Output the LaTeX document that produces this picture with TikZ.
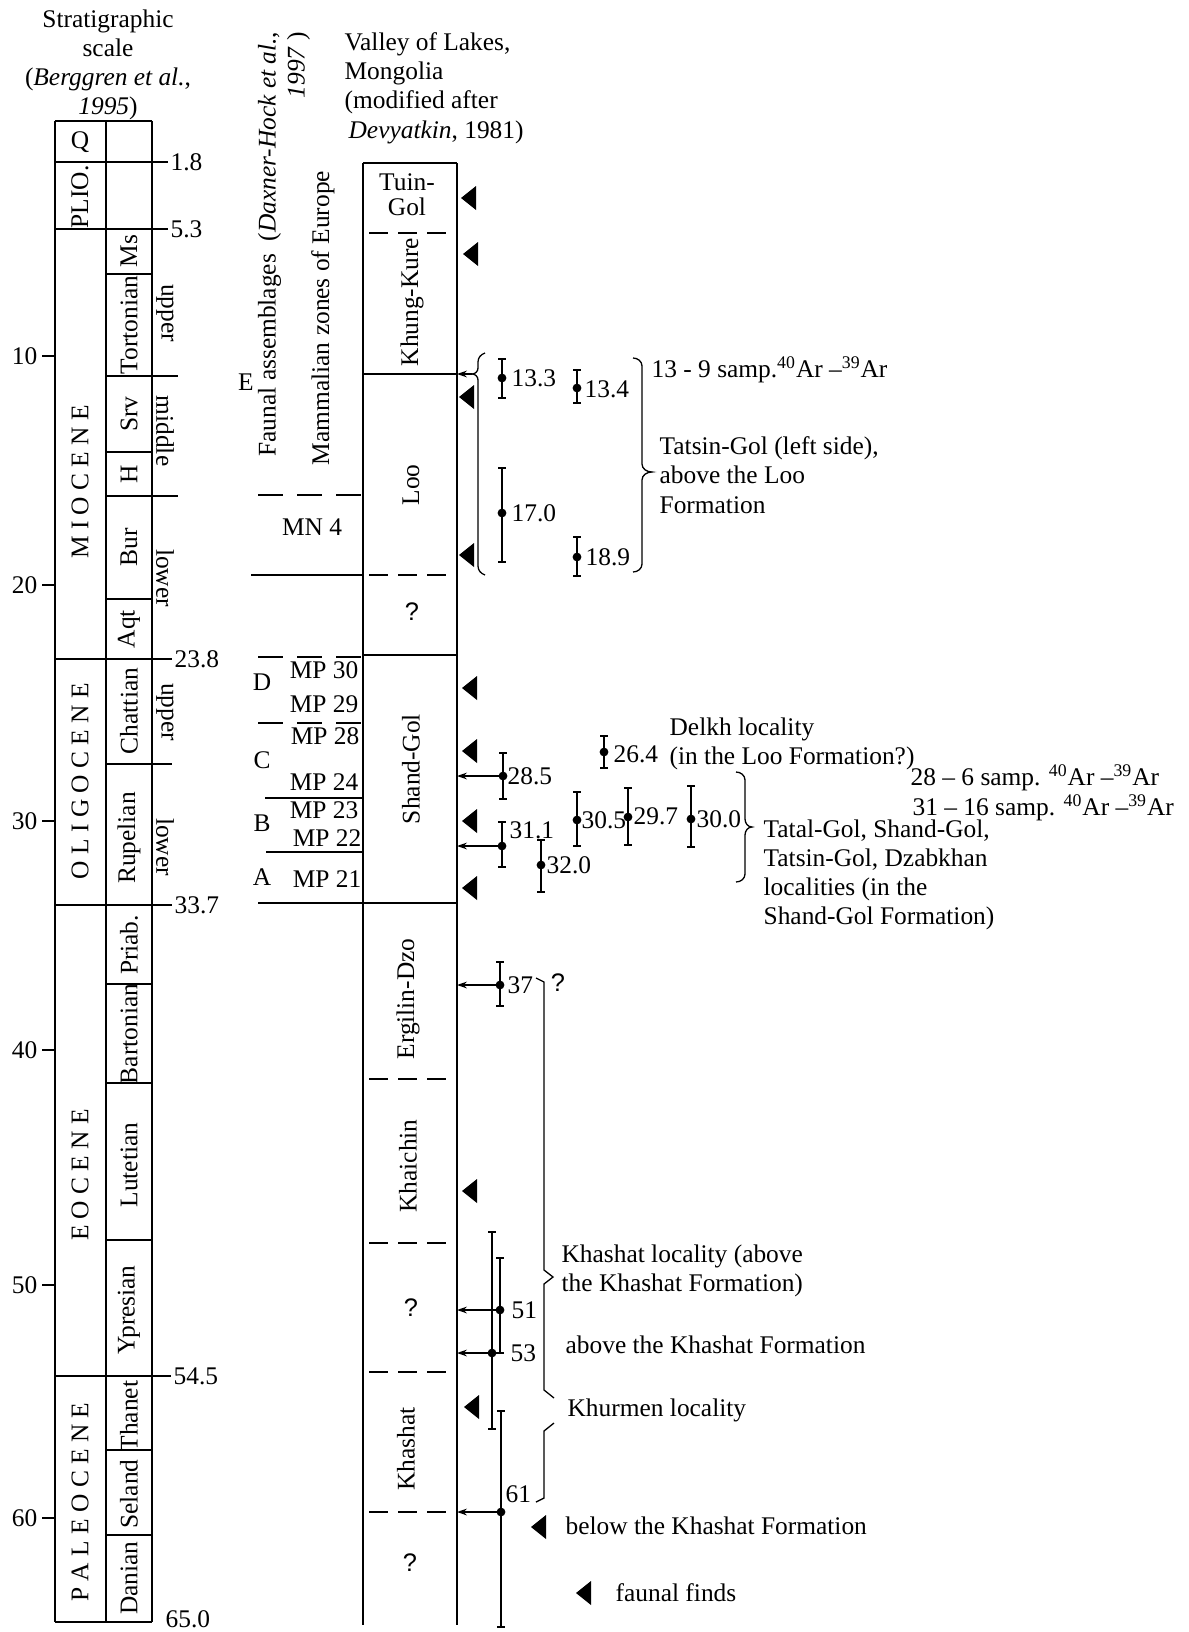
\documentclass[tikz,border=0pt]{standalone}
\usepackage{fontspec}
\setmainfont{Liberation Serif}
\newfontfamily\qmark{Liberation Sans}
\usetikzlibrary{arrows.meta}

\begin{document}
\begin{tikzpicture}[x=0.5pt, y=-0.5pt, >={Stealth[length=5pt, width=3.4pt]},
    line width=0.65pt,
    every node/.style={inner sep=0pt, font=\fontsize{12.7}{14.6}\selectfont},
    vtext/.style={rotate=90},
    dtext/.style={rotate=-90},
    note/.style={anchor=west, align=left},
    colline/.style={line width=1.1pt},
    zonedash/.style={dash pattern=on 12.5pt off 7pt},
    fmdash/.style={dash pattern=on 9.5pt off 5pt},
    errbar/.style={line width=0.9pt}]
  \useasboundingbox (0,0) rectangle (1188,1632);

  % stratigraphic scale
  \node[align=center] (scalehd) at (108,65) {Stratigraphic\\scale\\(\textit{Berggren et al.},\\\textit{1995})};
  \draw[colline] (55,121) -- (55,1622) (106,121) -- (106,1622) (152,121) -- (152,1622);
  \draw (55,121) -- (152,121) (55,1622) -- (152,1622);
  \foreach \y/\ag/\xe [count=\i] in {162/1.8/168, 229/5.3/168, 659/23.8/172, 905/33.7/172, 1376/54.5/171}
    \draw (55,\y) -- (\xe,\y) node[anchor=west, xshift=1pt] (age\i) {\ag};
  \node[anchor=west] (age6) at (165,1619) {65.0};
  \foreach \y/\xe in {274/152, 376/178, 452/152, 496/178, 599/152, 764/172, 984/152, 1083/152, 1240/152, 1450/152, 1535/152}
    \draw (106,\y) -- (\xe,\y);
  \foreach \m/\y in {10/356, 20/585, 30/821, 40/1050, 50/1285, 60/1518} {
    \draw (42,\y) -- (55,\y);
    \node[anchor=east] (ma\m) at (38,\y) {\m};
  }
  \node (qcell) at (80,142) {Q};
  \foreach \y/\s [count=\i] in {197/PLIO., 482/M I O C E N E, 781/O L I G O C E N E, 1175/E O C E N E, 1502/P A L E O C E N E}
    \node[vtext] (series\i) at (80,\y) {\s};
  \foreach \y/\s [count=\i] in {251/Ms, 325/Tortonian, 414/Srv, 474/H, 547/Bur, 629/Aqt, 711/Chattian, 838/Rupelian, 945/Priab., 1034/Bartonian, 1165/Lutetian, 1310/Ypresian, 1416/Thanet, 1494/Seland, 1578/Danian}
    \node[vtext] (stage\i) at (129,\y) {\s};
  \foreach \y/\s [count=\i] in {313/upper, 431/middle, 578/lower, 712/upper, 847/lower}
    \node[dtext] (sub\i) at (165,\y) {\s};

  % mammal zones
  \node[vtext, anchor=east, align=right] (faunahd) at (284,31) {Faunal assemblages\ \ (\textit{Daxner-Hock et al.},\\\textit{1997} )};
  \node[vtext] (mammhd) at (323,318) {Mammalian zones of Europe};
  \foreach \y in {495, 657, 723} \draw[zonedash] (258,\y) -- (362,\y);
  \draw (251,575) -- (362,575) (265,798) -- (362,798) (266,852) -- (362,852);
  \node (mn4) at (312,527) {MN 4};
  \node (zE) at (246,382) {E};
  \foreach \l/\y in {D/682, C/760, B/823, A/877} \node (z\l) at (262,\y) {\l};
  \foreach \y/\z/\xe in {670/30/359, 704/29/359, 736/28/360, 782/24/359, 810/23/359, 838/22/362, 879/21/362}
    \node[anchor=east] (mp\z) at (\xe,\y) {MP \z};

  % formations
  \node[note] (valleyhd) at (344,88) {Valley of Lakes,\\Mongolia\\(modified after\\\hspace{2pt}\textit{Devyatkin}, 1981)};
  \draw[colline] (363,163) -- (363,1625) (457,163) -- (457,1625);
  \draw (363,163) -- (457,163) (363,374) -- (457,374) (363,655) -- (457,655) (258,903) -- (457,903);
  \foreach \y in {233, 575, 1079, 1243, 1372, 1512} \draw[fmdash] (369,\y) -- (448,\y);
  \coordinate (fr) at (457,0);
  \node[align=center, font=\fontsize{12.7}{12.5}\selectfont] (tuin) at (407,195) {Tuin-\\Gol};
  \node[vtext] (khung) at (412,302) {Khung-Kure};
  \node[vtext] (loo) at (411,485) {Loo};
  \node (q1) at (412,612) {\qmark ?};
  \node[vtext] (shand) at (411,769) {Shand-Gol};
  \node[vtext] (ergil) at (408,999) {Ergilin-Dzo};
  \node[vtext] (khai) at (408,1166) {Khaichin};
  \node (q2) at (411,1308) {\qmark ?};
  \node[vtext] (khash) at (406,1449) {Khashat};
  \node (q3) at (410,1563) {\qmark ?};

  % faunal finds
  \foreach \x/\y in {461/198, 463/254, 459/397, 459/555, 462/688, 462/751, 462/821, 462/888, 462/1191, 464/1407, 531/1527, 576/1593}
    \fill (\x,\y) -- ++(15,-12) -- ++(0,24) -- cycle;

  % dated samples
  \foreach \bx/\bt/\bd/\bb/\bv/\lx/\ly [count=\i] in {
      502/359/378/398/13.3/511/378, 577/370/388/403/13.4/584/389,
      502/468/513/562/17.0/511/513, 577/537/557/576/18.9/585/557,
      503/753/776/799/28.5/507/776, 502/822/846/867/31.1/509/830,
      541/840/865/892/32.0/546/865, 577/792/820/846/30.5/581/820,
      604/736/752/768/26.4/613/754, 628/788/817/845/29.7/633/816,
      691/786/819/847/30.0/696/819, 500/962/985/1006/37/507/985,
      500/1258/1310/1353/51/511/1310, 492/1232/1353/1429/53/510/1353,
      501/1411/1512/1627/61/505/1494} {
    \draw[errbar] (\bx,\bt) -- (\bx,\bb) (\bx-4,\bt) -- (\bx+4,\bt) (\bx-4,\bb) -- (\bx+4,\bb);
    \fill (\bx,\bd) circle (2.2pt);
    \coordinate (d\i) at (\bx,\bd);
    \node[anchor=west] (v\i) at (\lx,\ly) {\bv};
  }
  \foreach \i in {5,6,12,13,14,15} \draw[->] (d\i) -- (d\i -| fr);

  % braces
  \draw (485,353) to[out=200,in=90] (478,362) -- (478,368) to[out=-90,in=0] (472,374) coordinate (bt)
    to[out=0,in=90] (478,380) -- (478,566) to[out=-90,in=160] (485,575);
  \draw[->] (bt) -- (bt -| fr);
  \draw (633,358) to[out=0,in=90] (642,366) -- (642,464) to[out=-90,in=180] (652,472)
    to[out=180,in=90] (642,480) -- (642,564) to[out=-90,in=0] (633,572);
  \draw (736,772) to[out=0,in=90] (745,780) -- (745,819) to[out=-90,in=180] (752,827)
    to[out=180,in=90] (745,835) -- (745,874) to[out=-90,in=0] (736,882);
  \draw (536,978) -- (544,982) -- (544,1270) -- (553,1277) -- (544,1284) -- (544,1390) -- (554,1398);
  \draw (554,1423) -- (544,1431) -- (544,1498) -- (536,1502);
  \node (q4) at (558,983) {\qmark ?};

  % notes
  \node[note] (n1) at (651,370) {13 - 9 samp.\textsuperscript{40}Ar --\textsuperscript{39}Ar};
  \node[note] (n2) at (659,475) {Tatsin-Gol (left side),\\above the Loo\\Formation};
  \node[note] (n3) at (669,744) {Delkh locality\\(in the Loo Formation?)};
  \node[note] (n4) at (910,778) {28 -- 6 samp. \textsuperscript{40}Ar --\textsuperscript{39}Ar};
  \node[note] (n5) at (912,808) {31 -- 16 samp. \textsuperscript{40}Ar --\textsuperscript{39}Ar};
  \node[note] (n6) at (763,875) {Tatal-Gol, Shand-Gol,\\Tatsin-Gol, Dzabkhan\\localities (in the\\Shand-Gol Formation)};
  \node[note] (n7) at (561,1271) {Khashat locality (above\\the Khashat Formation)};
  \node[note] (n8) at (565,1345) {above the Khashat Formation};
  \node[note] (n9) at (567,1410) {Khurmen locality};
  \node[note] (n10) at (565,1526) {below the Khashat Formation};
  \node[note] (n11) at (615,1593) {faunal finds};
\end{tikzpicture}
\end{document}
